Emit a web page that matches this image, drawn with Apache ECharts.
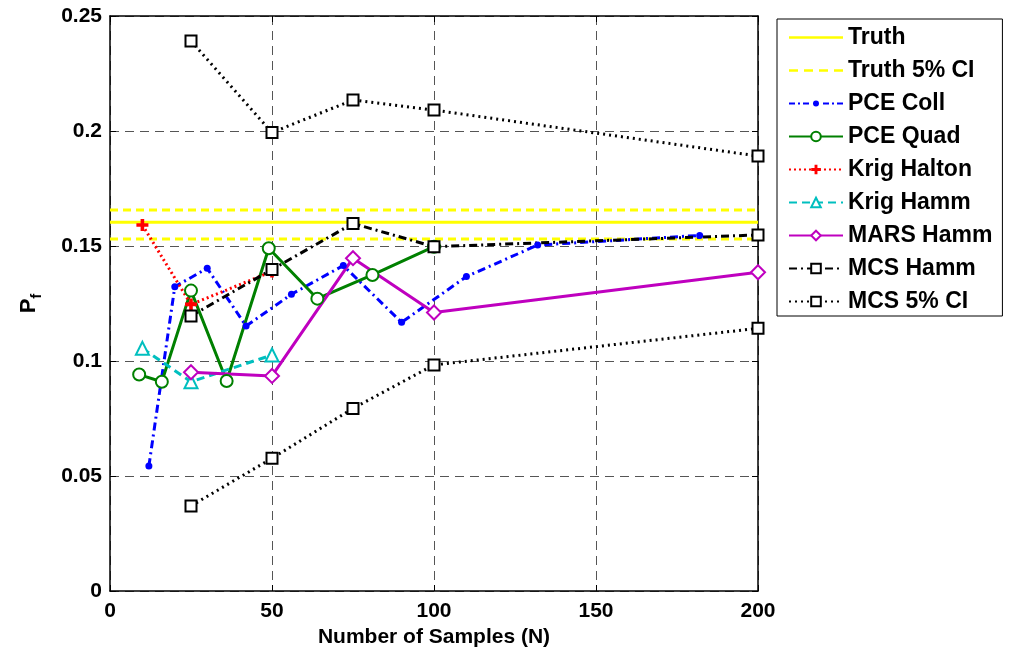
<!DOCTYPE html>
<html>
<head>
<meta charset="utf-8">
<title>Pf vs N</title>
<script src="https://cdn.jsdelivr.net/npm/echarts@6/dist/echarts.min.js"></script>
<style>
  html, body { margin: 0; padding: 0; background: #fff; }
  #chart { width: 1013px; height: 658px; }
</style>
</head>
<body>
<div id="chart"></div>
<script>
// values
const truthPf = 0.1603;
const truthLow = 0.1530;
const truthHigh = 0.1657;

const pceCollN = [12, 20, 30, 42, 56, 72, 90, 110, 132, 182];
const pceCollPf = [0.0543, 0.1323, 0.1403, 0.1152, 0.1290, 0.1415, 0.1168, 0.1367, 0.1504, 0.1546];

const pceQuadN = [9, 16, 25, 36, 49, 64, 81, 100];
const pceQuadPf = [0.0941, 0.0910, 0.1306, 0.0913, 0.1490, 0.1271, 0.1374, 0.1497];

const krigHaltonN = [10, 25, 50];
const krigHaltonPf = [0.1591, 0.1246, 0.1389];

const krigHammN = [10, 25, 50];
const krigHammPf = [0.1055, 0.0910, 0.1026];

const marsN = [25, 50, 75, 100, 200];
const marsPf = [0.0951, 0.0935, 0.1447, 0.1211, 0.1386];

const mcsN = [25, 50, 75, 100, 200];
const mcsPf = [0.1196, 0.1398, 0.1598, 0.1497, 0.1548];
const mcsUpper = [0.2391, 0.1993, 0.2135, 0.2091, 0.1891];
const mcsLower = [0.0370, 0.0577, 0.0794, 0.0983, 0.1142];

const xTicks = { min: 0, max: 200, interval: 50 };
const yTicks = { min: 0, max: 0.25, interval: 0.05 };

const FONT = "'Liberation Sans', Arial, sans-serif";
const plusPath = 'path://M3.5,0H6.5V3.5H10V6.5H6.5V10H3.5V6.5H0V3.5H3.5Z';

// legend icons for the entries whose default icon looks wrong
const iconSolid = 'path://M0,0H54V2.5H0Z';
const iconDashed = 'path://M0,0H9V2.5H0Z M15,0H24V2.5H15Z M30,0H39V2.5H30Z M45,0H54V2.5H45Z';
const iconDashDot = 'path://M0,2H6V4H0Z M9,2H11V4H9Z M14,2H20V4H14Z M24,3A3,3,0,1,0,30,3A3,3,0,1,0,24,3Z ' +
  'M34,2H40V4H34Z M43,2H45V4H43Z M48,2H54V4H48Z';

function pairs(xs, ys) {
  return xs.map((x, i) => [x, ys[i]]);
}

// one helper for the plotted series
function lineSeries(name, xs, ys, color, type, symbol, size, bw) {
  return {
    name: name,
    type: 'line',
    data: pairs(xs, ys),
    symbol: symbol,
    symbolSize: size,
    showSymbol: symbol !== 'none',
    color: color,
    lineStyle: { width: 3, type: type },
    itemStyle: { borderWidth: bw || 2 },
    z: symbol === 'none' ? 2 : 3
  };
}

// truth lines span the whole x range
const xSpan = [xTicks.min, xTicks.max];

const chart = echarts.init(document.getElementById('chart'));

const axisCommon = {
  type: 'value',
  axisLine: { show: true, onZero: false, lineStyle: { color: '#000', width: 1.5 } },
  axisTick: { show: true, inside: true, length: 6, lineStyle: { color: '#000', width: 1 } }
};

const option = {
  animation: false,
  backgroundColor: '#fff',
  grid: { left: 110, right: 255, top: 16, bottom: 67 },
  legend: {
    orient: 'vertical',
    left: 777,
    top: 19,
    padding: [7, 10, 3, 11],
    itemGap: 10,
    itemWidth: 54,
    itemHeight: 12,
    borderColor: '#000',
    borderWidth: 1,
    selectedMode: false,
    textStyle: { fontFamily: FONT, fontWeight: 'bold', fontSize: 23, lineHeight: 23, color: '#000' },
    data: [
      { name: 'Truth', icon: iconSolid },
      { name: 'Truth 5% CI', icon: iconDashed },
      { name: 'PCE Coll', icon: iconDashDot },
      'PCE Quad', 'Krig Halton', 'Krig Hamm', 'MARS Hamm', 'MCS Hamm', 'MCS 5% CI'
    ]
  },
  xAxis: [
    Object.assign({}, axisCommon, xTicks, {
      position: 'bottom',
      name: 'Number of Samples (N)',
      nameLocation: 'middle',
      nameGap: 36,
      nameTextStyle: { fontFamily: FONT, fontWeight: 'bold', fontSize: 21, color: '#000' },
      axisLabel: { fontFamily: FONT, fontWeight: 'bold', fontSize: 21, color: '#000', margin: 10 },
      splitLine: { show: true, lineStyle: { color: '#555', width: 1, type: [9, 6] } }
    }),
    Object.assign({}, axisCommon, xTicks, {
      position: 'top',
      axisLabel: { show: false },
      splitLine: { show: false }
    })
  ],
  yAxis: [
    Object.assign({}, axisCommon, yTicks, {
      position: 'left',
      name: '{p|P}{s|f}',
      nameLocation: 'middle',
      nameRotate: 90,
      nameGap: 66,
      nameTextStyle: {
        rich: {
          p: { fontFamily: FONT, fontWeight: 'bold', fontSize: 22, lineHeight: 30, color: '#000' },
          s: { fontFamily: FONT, fontWeight: 'bold', fontSize: 15, lineHeight: 8, verticalAlign: 'bottom', color: '#000' }
        }
      },
      axisLabel: {
        fontFamily: FONT, fontWeight: 'bold', fontSize: 21, color: '#000', margin: 8,
        formatter: v => String(+v.toFixed(2))
      },
      splitLine: { show: true, lineStyle: { color: '#555', width: 1, type: [9, 6] } }
    }),
    Object.assign({}, axisCommon, yTicks, {
      position: 'right',
      axisLabel: { show: false },
      splitLine: { show: false }
    })
  ],
  series: [
    lineSeries('Truth', xSpan, [truthPf, truthPf], '#ffff00', 'solid', 'none', 0),
    lineSeries('Truth 5% CI', xSpan, [truthLow, truthLow], '#ffff00', [8, 5], 'none', 0),
    lineSeries('Truth 5% CI', xSpan, [truthHigh, truthHigh], '#ffff00', [8, 5], 'none', 0),
    lineSeries('PCE Coll', pceCollN, pceCollPf, '#0000ff', [8, 4, 2, 4], 'circle', 7),
    lineSeries('PCE Quad', pceQuadN, pceQuadPf, '#008000', 'solid', 'emptyCircle', 12),
    lineSeries('Krig Halton', krigHaltonN, krigHaltonPf, '#ff0000', [2, 3], plusPath, 12),
    lineSeries('Krig Hamm', krigHammN, krigHammPf, '#00bfbf', [8, 5], 'emptyTriangle', 13),
    lineSeries('MARS Hamm', marsN, marsPf, '#bf00bf', 'solid', 'emptyDiamond', 14),
    lineSeries('MCS Hamm', mcsN, mcsPf, '#000000', [8, 4, 2, 4], 'emptyRect', 11, 2.5),
    lineSeries('MCS 5% CI', mcsN, mcsUpper, '#000000', [2, 4], 'emptyRect', 11, 2.5),
    lineSeries('MCS 5% CI', mcsN, mcsLower, '#000000', [2, 4], 'emptyRect', 11, 2.5)
  ]
};

chart.setOption(option);
</script>
</body>
</html>
